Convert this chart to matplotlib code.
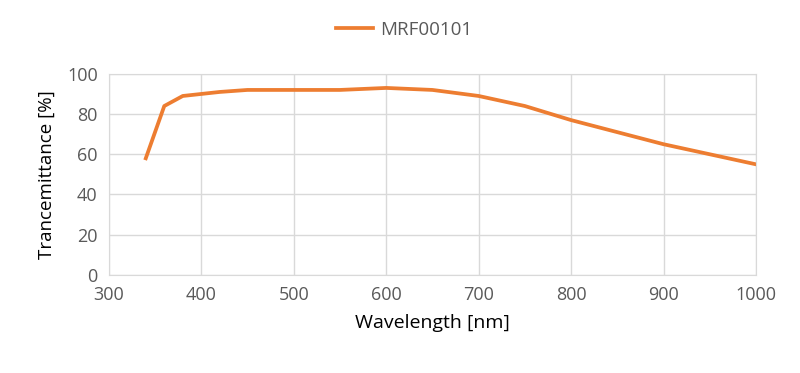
import matplotlib
matplotlib.use("Agg")
import matplotlib.pyplot as plt

wavelength = [340, 360, 380, 400, 420, 450, 500, 550, 600, 650, 700, 750, 800, 850, 900, 950, 1000]
transmittance = [58, 84, 89, 90, 91, 92, 92, 92, 93, 92, 89, 84, 77, 71, 65, 60, 55]
series_name = "MRF00101"

plt.rcParams['font.family'] = ['Open Sans', 'DejaVu Sans']
text_col = '#595959'

fig = plt.figure(figsize=(8, 3.73), dpi=100)
ax = fig.add_axes([0.136, 0.263, 0.809, 0.539])

ax.plot(wavelength, transmittance, color='#ED7D31', linewidth=2.7, label=series_name)

ax.set_xlim(300, 1000)
ax.set_ylim(0, 100)
ax.set_xticks(range(300, 1001, 100))
ax.set_yticks(range(0, 101, 20))
ax.grid(True, color='#d9d9d9', linewidth=1)
ax.set_axisbelow(True)
for s in ax.spines.values():
    s.set_color('#d9d9d9')
ax.tick_params(length=0, labelsize=13, labelcolor=text_col, pad=8)

ax.set_xlabel("Wavelength [nm]", fontsize=14, color='black', labelpad=7)
ax.set_ylabel("Trancemittance [%]", fontsize=13.5, color='black', labelpad=8)

leg = fig.legend(loc='center', bbox_to_anchor=(0.505, 0.92), frameon=False,
                 fontsize=13.5, handlelength=2.0, handletextpad=0.35)
for t in leg.get_texts():
    t.set_color(text_col)

fig.savefig("out.png", dpi=100)
